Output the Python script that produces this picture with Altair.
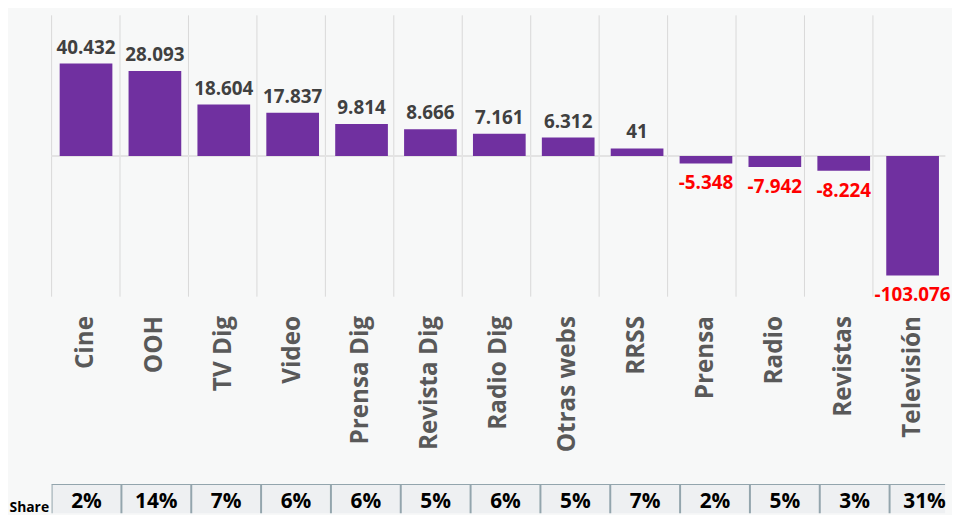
import altair as alt
import pandas as pd

categories = ["Cine", "OOH", "TV Dig", "Video", "Prensa Dig", "Revista Dig", "Radio Dig",
              "Otras webs", "RRSS", "Prensa", "Radio", "Revistas", "Televisión"]
# bar heights as drawn (relative units, axis symmetric around zero)
bar_values = [93.4, 85.7, 52.0, 43.7, 32.4, 27.0, 22.4, 18.7, 7.7, -7.6, -11.0, -15.0, -120.6]
# data labels shown on the bars
label_values = [40432, 28093, 18604, 17837, 9814, 8666, 7161, 6312, 41, -5348, -7942, -8224, -103076]
# share row
share_values = [2, 14, 7, 6, 6, 5, 6, 5, 7, 2, 5, 3, 31]


def fmt_es(v):
    return f"{v:,}".replace(",", ".")


df = pd.DataFrame({
    "cat": categories,
    "bar": bar_values,
    "label": [fmt_es(v) for v in label_values],
    "sign": ["pos" if v >= 0 else "neg" for v in label_values],
    "zero": [0] * len(categories),
})

tbl = pd.DataFrame({
    "idx": list(range(len(categories))),
    "idx2": [i + 1 for i in range(len(categories))],
    "mid": [i + 0.5 for i in range(len(categories))],
    "row": ["Share"] * len(categories),
    "share": [f"{v}%" for v in share_values],
})

FONT = "Open Sans"
W = 902
PURPLE = "#7030A0"

xscale = alt.Scale(paddingInner=0, paddingOuter=0, round=False, range=[0, 904])
gscale = alt.Scale(paddingInner=0, paddingOuter=0.027, align=0, round=False)
yscale = alt.Scale(domain=[-142, 142], nice=False, zero=False)

xaxis = alt.Axis(title=None, labelAngle=270, ticks=False, domain=False, grid=False,
                 labelFont=FONT, labelFontSize=24.5, labelFontWeight="bold",
                 labelColor="#595959", labelPadding=19, labelLimit=300)


def X(**kw):
    return alt.X("cat:N", sort=categories, scale=xscale, axis=xaxis, **kw)


def Y(field):
    return alt.Y(field, scale=yscale, axis=None)


base = alt.Chart(df)

grid = base.mark_rule(color="#d9d9d9", strokeWidth=1).encode(
    x=alt.X("cat:N", sort=categories, scale=gscale, axis=None, bandPosition=0)
)
zero = base.mark_rule(color="#e3e3e3", strokeWidth=2).encode(
    y=Y("zero:Q")
)
bars = base.mark_bar(color=PURPLE, width={"band": 0.765}).encode(
    x=X(),
    y=Y("bar:Q"),
)
pos_lbl = base.transform_filter(alt.datum.sign == "pos").mark_text(
    font=FONT, fontSize=19, fontWeight="bold", color="#404040", baseline="alphabetic", dy=-10
).encode(x=X(), y=Y("bar:Q"), text="label:N")
neg_lbl = base.transform_filter(alt.datum.sign == "neg").mark_text(
    font=FONT, fontSize=19, fontWeight="bold", color="#ff0000", baseline="alphabetic", dy=26
).encode(x=X(), y=Y("bar:Q"), text="label:N")

marks = alt.layer(zero, bars, pos_lbl, neg_lbl)
top = alt.layer(grid, marks).resolve_scale(x="independent").properties(width=W, height=284)

tx = alt.Scale(domain=[0, W / 70.5], nice=False, zero=False)
ty = alt.Scale(paddingInner=0, paddingOuter=0)
yaxis_t = alt.Axis(title=None, ticks=False, domain=False, grid=False, labelFont=FONT,
                   labelFontSize=14, labelFontWeight="bold", labelColor="#000000",
                   labelPadding=3, labelOffset=9)


def TX(field):
    return alt.X(field, scale=tx, axis=None)


def TY():
    return alt.Y("row:N", scale=ty, axis=yaxis_t)


BORDER = "#93a5ad"
tbase = alt.Chart(tbl)
cells = tbase.mark_rect(fill="#eef0f2", clip=True).encode(
    x=TX("idx:Q"), x2="idx2:Q", y=TY(),
)
seps = tbase.mark_rule(color=BORDER, strokeWidth=2, clip=True).encode(
    x=TX("idx:Q"),
)
tops = tbase.mark_rule(color=BORDER, strokeWidth=2, clip=True).encode(
    x=TX("idx:Q"), x2="idx2:Q", y=alt.value(0),
)
texts = tbase.mark_text(font=FONT, fontSize=21, fontWeight="bold", color="#000000", dy=3).encode(
    x=TX("mid:Q"), y=TY(), text="share:N",
)
table = alt.layer(cells, seps, tops, texts).properties(width=W, height=30)

chart = alt.vconcat(top, table, spacing=30).properties(
    padding={"left": 0, "top": 4, "right": 0, "bottom": 0},
    background="#f7f8f8",
).configure_view(stroke="transparent")

chart.save("out.html", embed_options={"renderer": "svg", "actions": False})
